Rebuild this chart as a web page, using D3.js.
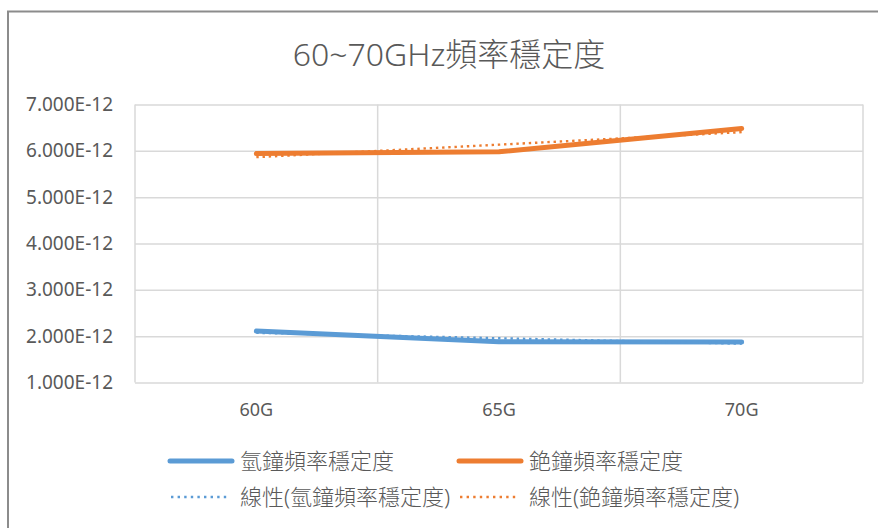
<!DOCTYPE html>
<html>
<head>
<meta charset="utf-8">
<script src="https://cdn.jsdelivr.net/npm/d3@7"></script>
<style>
  html, body { margin: 0; padding: 0; background: #fff; }
  svg { display: block; }
  text { font-family: "Noto Sans", "Noto Sans CJK TC", sans-serif; fill: #595959; }
</style>
</head>
<body>
<svg id="chart" width="878" height="528"></svg>
<script>
// Frequency-stability data, 60–70 GHz
const categories = ["60G", "65G", "70G"];
const hydrogenValues = [2.11e-12, 1.88e-12, 1.875e-12];
const cesiumValues = [5.94e-12, 5.98e-12, 6.48e-12];
const yTicks = [1e-12, 2e-12, 3e-12, 4e-12, 5e-12, 6e-12, 7e-12];
const seriesNames = ["氫鐘頻率穩定度", "銫鐘頻率穩定度"];
const trendNames = ["線性(氫鐘頻率穩定度)", "線性(銫鐘頻率穩定度)"];
const colors = ["#5B9BD5", "#ED7D31"];
const titleText = "60~70GHz頻率穩定度";

const svg = d3.select("#chart");
const W = 878, H = 528;

// chart frame
svg.append("rect")
  .attr("x", 8).attr("y", 11.5)
  .attr("width", W + 10).attr("height", H + 10)
  .attr("fill", "#fff").attr("stroke", "#8c8c8c").attr("stroke-width", 2);

const plot = { left: 135, right: 863, top: 104.5, bottom: 382.5 };

const x = d3.scaleBand().domain(categories).range([plot.left, plot.right]).padding(0);
const y = d3.scaleLinear().domain([1e-12, 7e-12]).range([plot.bottom, plot.top]);

// title
svg.append("text")
  .attr("x", 449).attr("y", 66)
  .attr("text-anchor", "middle")
  .style("font-size", "32px")
  .style("font-weight", 300)
  .text(titleText);

// horizontal gridlines + y labels via axis
const yAxis = d3.axisLeft(y).tickValues(yTicks)
  .tickSize(-(plot.right - plot.left))
  .tickPadding(22)
  .tickFormat(d => (d * 1e12).toFixed(3) + "E-12");
const gy = svg.append("g").attr("transform", `translate(${plot.left},0)`).call(yAxis);
gy.select(".domain").remove();
gy.selectAll(".tick line").attr("stroke", "#d9d9d9").attr("stroke-width", 1.5);
gy.selectAll(".tick text").style("font-size", "19px").attr("fill", "#595959");

// vertical gridlines at category boundaries, and plot border
const bounds = [plot.left, ...categories.slice(1).map(c => x(c)), plot.right];
svg.append("g").selectAll("line").data(bounds).join("line")
  .attr("x1", d => d).attr("x2", d => d)
  .attr("y1", plot.top).attr("y2", plot.bottom)
  .attr("stroke", "#d9d9d9").attr("stroke-width", 1.5);

// x axis labels
const xAxis = d3.axisBottom(x).tickSize(0).tickPadding(21);
const gx = svg.append("g").attr("transform", `translate(0,${plot.bottom})`).call(xAxis);
gx.select(".domain").remove();
gx.selectAll(".tick text").style("font-size", "18px").attr("fill", "#595959");

// least-squares linear trend over category index
function linearFit(vals) {
  const xs = vals.map((_, i) => i + 1);
  const mx = d3.mean(xs), my = d3.mean(vals);
  const slope = d3.sum(xs.map((xi, i) => (xi - mx) * (vals[i] - my))) /
                d3.sum(xs.map(xi => (xi - mx) ** 2));
  return xs.map(xi => my + slope * (xi - mx));
}

const cx = c => x(c) + x.bandwidth() / 2;
const line = d3.line().x((d, i) => cx(categories[i])).y(d => y(d));

const series = [hydrogenValues, cesiumValues];

series.forEach((vals, k) => {
  svg.append("path")
    .attr("d", line(vals))
    .attr("fill", "none")
    .attr("stroke", colors[k])
    .attr("stroke-width", 5)
    .attr("stroke-linecap", "round")
    .attr("stroke-linejoin", "round");
});

series.forEach((vals, k) => {
  svg.append("path")
    .attr("d", line(linearFit(vals)))
    .attr("fill", "none")
    .attr("stroke", colors[k])
    .attr("stroke-width", 2.4)
    .attr("stroke-dasharray", "2.4,3.8");
});

// legend
const legendItems = [
  { name: seriesNames[0], color: colors[0], dotted: false, x: 170, y: 461 },
  { name: seriesNames[1], color: colors[1], dotted: false, x: 459, y: 461 },
  { name: trendNames[0], color: colors[0], dotted: true, x: 170, y: 497 },
  { name: trendNames[1], color: colors[1], dotted: true, x: 459, y: 497 }
];
const lg = svg.append("g").selectAll("g").data(legendItems).join("g")
  .attr("transform", d => `translate(${d.x},${d.y})`);
lg.append("line")
  .attr("x1", d => d.dotted ? 1 : 0).attr("x2", d => d.dotted ? 60 : 62)
  .attr("y1", 0).attr("y2", 0)
  .attr("stroke", d => d.color)
  .attr("stroke-width", d => d.dotted ? 2.4 : 5)
  .attr("stroke-linecap", d => d.dotted ? "butt" : "round")
  .attr("stroke-dasharray", d => d.dotted ? "2.4,4.2" : null);
lg.append("text")
  .attr("x", 70).attr("y", 0).attr("dy", "0.35em")
  .style("font-size", "22px")
  .style("font-weight", 300)
  .text(d => d.name);
</script>
</body>
</html>
